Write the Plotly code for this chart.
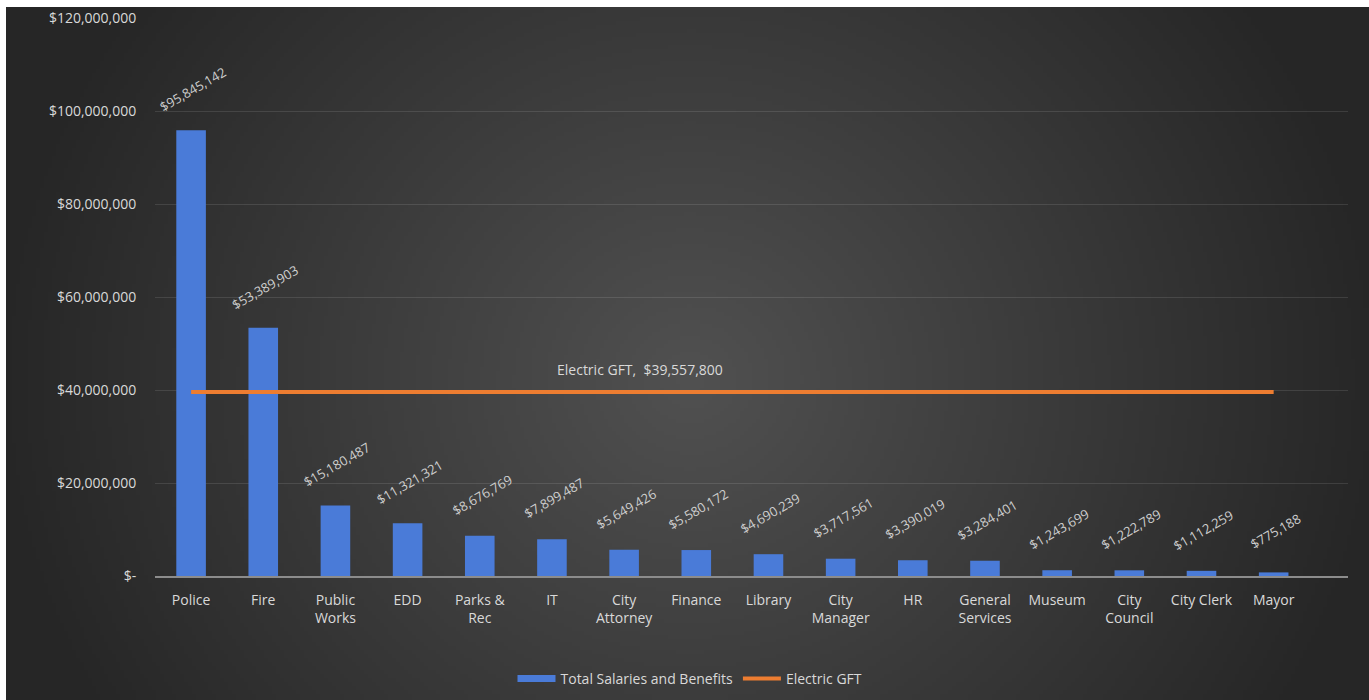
import base64
import struct
import zlib

import numpy as np
import plotly.graph_objects as go

# ---------------- data ----------------
categories = ["Police", "Fire", "Public Works", "EDD", "Parks & Rec", "IT",
              "City Attorney", "Finance", "Library", "City Manager", "HR",
              "General Services", "Museum", "City Council", "City Clerk", "Mayor"]
tick_labels = ["Police", "Fire", "Public<br>Works", "EDD", "Parks &<br>Rec", "IT",
               "City<br>Attorney", "Finance", "Library", "City<br>Manager", "HR",
               "General<br>Services", "Museum", "City<br>Council", "City Clerk", "Mayor"]
salaries = [95845142, 53389903, 15180487, 11321321, 8676769, 7899487,
            5649426, 5580172, 4690239, 3717561, 3390019,
            3284401, 1243699, 1222789, 1112259, 775188]
electric_gft_value = 39557800
electric_gft = [electric_gft_value] * len(categories)
y_ticks = [0, 20000000, 40000000, 60000000, 80000000, 100000000, 120000000]
y_tick_labels = ["$-" if v == 0 else f"${v:,.0f}" for v in y_ticks]

# ---------------- layout geometry ----------------
W, H = 1369, 700
ML, MR, MT, MB = 155, 21, 18, 124
PW, PH = W - ML - MR, H - MT - MB

FONT = "Open Sans"
TXT = "#d9d9d9"


# ---------------- radial gradient background (PNG data URI) ----------------
def gradient_png(w, h):
    ys, xs = np.mgrid[0:h, 0:w].astype(float)
    # page-pixel coordinates of the image (covers x 6..1369, y 7..700)
    px = 6 + xs / (w - 1) * (W - 6)
    py = 7 + ys / (h - 1) * (H - 7)
    cx, cy, rx, ry = 690.0, 380.0, 700.0, 660.0
    d = np.sqrt(((px - cx) / rx) ** 2 + ((py - cy) / ry) ** 2)
    d = np.clip(d, 0, 1)
    c0, c1 = 0x51, 0x26
    val = (c0 - (c0 - c1) * d).astype(np.uint8)
    rgb = np.stack([val, val, val], axis=-1)
    raw = b"".join(b"\x00" + rgb[r].tobytes() for r in range(h))

    def chunk(t, dat):
        c = struct.pack(">I", len(dat)) + t + dat
        return c + struct.pack(">I", zlib.crc32(t + dat) & 0xFFFFFFFF)

    png = (b"\x89PNG\r\n\x1a\n"
           + chunk(b"IHDR", struct.pack(">IIBBBBB", w, h, 8, 2, 0, 0, 0))
           + chunk(b"IDAT", zlib.compress(raw, 9))
           + chunk(b"IEND", b""))
    return "data:image/png;base64," + base64.b64encode(png).decode()


bg_uri = gradient_png(341, 174)

fig = go.Figure()

fig.add_trace(go.Bar(
    x=categories, y=salaries, name="Total Salaries and Benefits",
    marker=dict(color="#4a7bd8", line=dict(width=0)),
    width=0.41, showlegend=False,
))
# legend proxy giving a wide rectangular swatch like the original
fig.add_trace(go.Scatter(
    x=[None], y=[None], mode="lines", name="Total Salaries and Benefits",
    line=dict(color="#4a7bd8", width=7),
))
fig.add_trace(go.Scatter(
    x=categories, y=electric_gft, mode="lines", name="Electric GFT",
    line=dict(color="#ED7D31", width=4),
))

annotations = []
for c, v in zip(categories, salaries):
    annotations.append(dict(
        x=c, y=v, text=f"${v:,.0f}", showarrow=False, textangle=-30,
        xanchor="center", yanchor="middle", yshift=41, xshift=2,
        font=dict(family=FONT, size=13, color="#cfcfcf"),
    ))
annotations.append(dict(
    x=categories[6], y=electric_gft_value,
    text=f"Electric GFT,\u00a0 ${electric_gft_value:,.0f}",
    showarrow=False, xanchor="center", yanchor="middle", yshift=23, xshift=16,
    font=dict(family=FONT, size=14, color="#d9d9d9"),
))

fig.update_layout(
    width=W, height=H,
    margin=dict(l=ML, r=MR, t=MT, b=MB, pad=0, autoexpand=False),
    paper_bgcolor="white",
    plot_bgcolor="rgba(0,0,0,0)",
    font=dict(family=FONT, size=14, color=TXT),
    images=[dict(
        source=bg_uri, xref="paper", yref="paper",
        x=(6 - ML) / PW, y=(H - MB - 7) / PH,
        sizex=(W - 6) / PW, sizey=(H - 7) / PH,
        xanchor="left", yanchor="top", sizing="stretch", layer="below",
    )],
    xaxis=dict(
        type="category", range=[-0.5, 16.03],
        tickmode="array", tickvals=categories, ticktext=tick_labels,
        tickfont=dict(family=FONT, size=14, color=TXT),
        showgrid=False, zeroline=False,
        showline=True, linecolor="#8c8c8c", linewidth=1.5,
        ticks="outside", ticklen=10, tickcolor="rgba(0,0,0,0)",
        fixedrange=True, automargin=False,
    ),
    yaxis=dict(
        range=[0, 120000000],
        tickmode="array", tickvals=y_ticks, ticktext=y_tick_labels,
        tickfont=dict(family=FONT, size=14, color=TXT),
        showgrid=True, gridcolor="rgba(255,255,255,0.11)", gridwidth=1,
        zeroline=False, showline=False,
        ticks="outside", ticklen=15, tickcolor="rgba(0,0,0,0)",
        fixedrange=True, automargin=False,
    ),
    legend=dict(
        orientation="h", x=(690 - ML) / PW, y=(H - MB - 679) / PH,
        xanchor="center", yanchor="middle",
        font=dict(family=FONT, size=14, color=TXT),
        bgcolor="rgba(0,0,0,0)", itemwidth=38, tracegroupgap=0,
    ),
    annotations=annotations,
    bargap=0.59,
)

fig.write_html("out.html")
